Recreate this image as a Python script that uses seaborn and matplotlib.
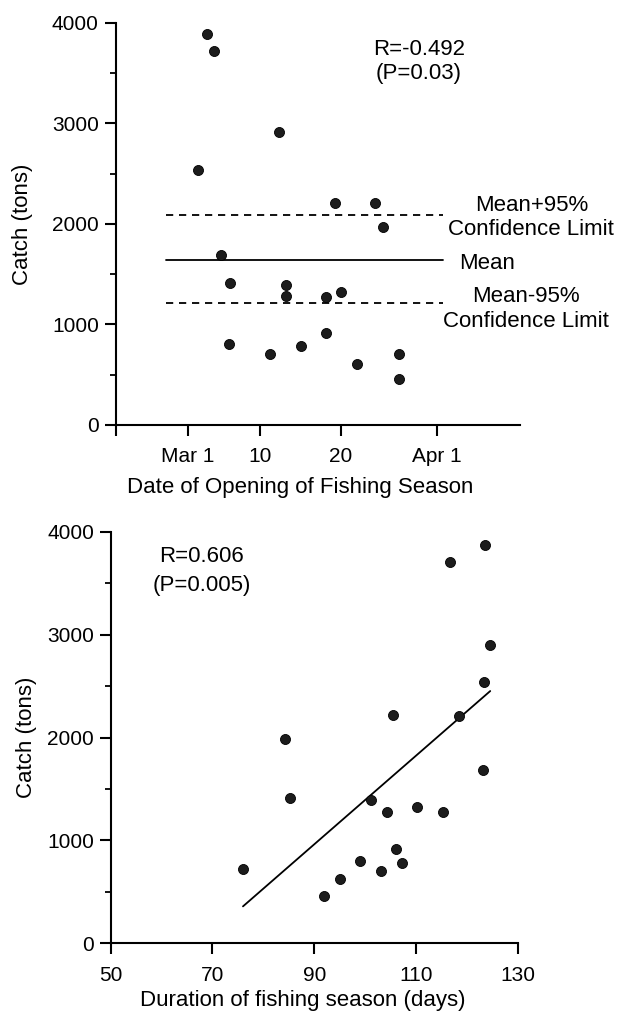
import numpy as np
import pandas as pd
import matplotlib
matplotlib.use("Agg")
import matplotlib.pyplot as plt
import seaborn as sns
from matplotlib.ticker import MultipleLocator

# ---------------- data ----------------
# Top panel: opening date (day of March) vs catch
open_day = [3.4, 4.3, 12.3, 2.2, 19.3, 24.3, 25.3, 5.1, 6.2, 13.2,
            13.2, 18.2, 20.1, 6.1, 11.2, 15.1, 18.2, 22.0, 27.2, 27.2]
open_catch = [3890, 3720, 2910, 2540, 2210, 2210, 1970, 1690, 1410, 1390,
              1280, 1275, 1320, 805, 705, 785, 910, 607, 710, 455]
mean_catch = 1640
upper_cl = 2090
lower_cl = 1210
ref_line_days = [-1.7, 32.7]
date_ticks = [-8, 1, 10, 20, 32]
date_labels = ["", "Mar 1", "10", "20", "Apr 1"]

# Bottom panel: duration of season vs catch
duration = [123.6, 116.7, 124.6, 123.3, 105.4, 118.5, 84.3, 123.2, 85.3, 101.1,
            104.3, 110.3, 115.3, 106.1, 107.2, 99.1, 103.1, 95.0, 92.0, 76.0]
dur_catch = [3870, 3705, 2895, 2535, 2215, 2210, 1985, 1680, 1410, 1395,
             1280, 1320, 1275, 912, 783, 800, 703, 622, 457, 719]
dur_ticks = [50, 70, 90, 110, 130]
catch_ticks = [0, 1000, 2000, 3000, 4000]

top_df = pd.DataFrame({"day": open_day, "catch": open_catch})
bot_df = pd.DataFrame({"dur": duration, "catch": dur_catch})

# ---------------- style ----------------
sns.set_theme(style="ticks")
plt.rcParams["font.family"] = ["Liberation Sans", "DejaVu Sans"]
plt.rcParams["axes.linewidth"] = 1.5
plt.rcParams["text.color"] = "black"
plt.rcParams["axes.labelcolor"] = "black"
plt.rcParams["xtick.color"] = "black"
plt.rcParams["ytick.color"] = "black"

W, H = 619, 1014
fig = plt.figure(figsize=(W / 100, H / 100), dpi=100)
fig.patch.set_facecolor("white")

ax1 = fig.add_axes([115.5 / W, 1 - 425 / H, 404.5 / W, 402.3 / H])
ax2 = fig.add_axes([110.7 / W, 1 - 943.3 / H, 407 / W, 411.6 / H])

dot_kw = dict(s=52, color="#1c1c1c", edgecolor="black", linewidth=0.6, zorder=3)

# ---- top panel ----
sns.scatterplot(data=top_df, x="day", y="catch", ax=ax1, legend=False, **dot_kw)
ax1.plot(ref_line_days, [mean_catch, mean_catch], color="black", lw=1.3)
ax1.plot(ref_line_days, [upper_cl, upper_cl], color="black", lw=1.3, dashes=(4, 3.2))
ax1.plot(ref_line_days, [lower_cl, lower_cl], color="black", lw=1.3, dashes=(4, 3.2))
ax1.set_xlim(-8, 42.3)
ax1.set_ylim(0, 4000)
ax1.set_xticks(date_ticks)
ax1.set_xticklabels(date_labels)

txt = dict(ha="center", va="center", fontsize=16, color="black")
ax1.text(29.7, 3735, "R=-0.492", **txt)
ax1.text(29.7, 3490, "(P=0.03)", **txt)
ax1.text(43.8, 2187, "Mean+95%", clip_on=False, **txt)
ax1.text(43.6, 1939, "Confidence Limit", clip_on=False, **txt)
ax1.text(38.2, 1608, "Mean", clip_on=False, **txt)
ax1.text(43.0, 1276, "Mean-95%", clip_on=False, **txt)
ax1.text(43.0, 1027, "Confidence Limit", clip_on=False, **txt)

ax1.set_xlabel("Date of Opening of Fishing Season", fontsize=16)

# ---- bottom panel ----
sns.regplot(data=bot_df, x="dur", y="catch", ax=ax2, ci=None, scatter=False,
            line_kws=dict(color="black", lw=1.3))
sns.scatterplot(data=bot_df, x="dur", y="catch", ax=ax2, legend=False, **dot_kw)
ax2.set_xlim(50, 130)
ax2.set_ylim(0, 4000)
ax2.set_xticks(dur_ticks)
ax2.text(67.9, 3757, "R=0.606", **txt)
ax2.text(67.9, 3482, "(P=0.005)", **txt)
ax2.set_xlabel("Duration of fishing season (days)", fontsize=16)

for ax, lx, xlx, xly in [(ax1, -0.204, 0.456, -0.129), (ax2, -0.181, 0.473, -0.113)]:
    ax.set_yticks(catch_ticks)
    ax.yaxis.set_minor_locator(MultipleLocator(500))
    ax.set_ylabel("Catch (tons)", fontsize=16)
    ax.yaxis.set_label_coords(lx, 0.5)
    ax.xaxis.set_label_coords(xlx, xly)
    sns.despine(ax=ax)
    ax.tick_params(axis="both", which="major", length=8, width=1.5,
                   labelsize=15, color="black", labelcolor="black", direction="out")
    ax.tick_params(axis="y", which="minor", length=4, width=1.3, color="black")
    ax.tick_params(axis="x", which="major", pad=8)
    ax.tick_params(axis="y", which="major", pad=4)
    for sp in ax.spines.values():
        sp.set_color("black")
        sp.set_linewidth(1.5)
    ax.set_facecolor("white")

fig.savefig("out.png", dpi=100, facecolor="white")
